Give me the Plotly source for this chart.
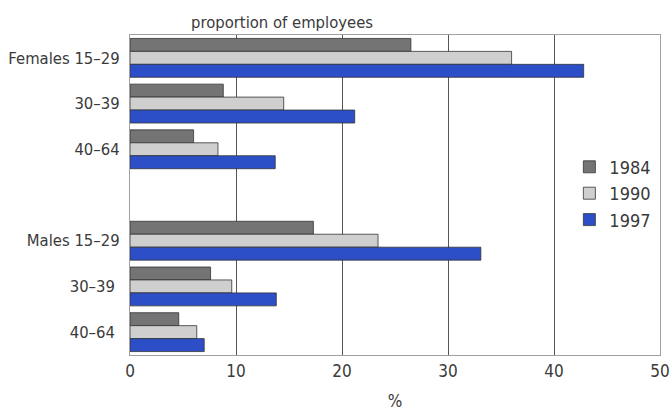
import plotly.graph_objects as go

categories = ["Females 15–29", "30–39", "40–64", " ", "Males 15–29", "30–39 ", "40–64 "]
years = ["1984", "1990", "1997"]
v1984 = [26.5, 8.8, 6.0, None, 17.3, 7.6, 4.6]
v1990 = [36.0, 14.5, 8.3, None, 23.4, 9.6, 6.3]
v1997 = [42.8, 21.2, 13.7, None, 33.1, 13.8, 7.0]
x_ticks = [0, 10, 20, 30, 40, 50]

colors = ["#747474", "#cfcfcf", "#2c4fc8"]
FONT = "DejaVu Sans Condensed, Liberation Sans Narrow, Roboto, Arial, sans-serif"
TXT = "#3a3a3a"

fig = go.Figure()
for name, vals, c in zip(years, [v1984, v1990, v1997], colors):
    fig.add_trace(go.Bar(
        y=categories, x=vals, name=name, orientation="h",
        marker=dict(color=c, line=dict(color="#333333", width=0.8)),
    ))

fig.update_layout(
    width=672, height=411,
    margin=dict(l=130, r=12, t=35, b=56),
    paper_bgcolor="white", plot_bgcolor="white",
    barmode="group", bargap=0.15, bargroupgap=0,
    font=dict(family=FONT, color=TXT, size=17),
    legend=dict(x=0.829, y=0.645, xanchor="left", yanchor="top",
                traceorder="normal", font=dict(size=18, color=TXT),
                bgcolor="rgba(0,0,0,0)", itemwidth=30, tracegroupgap=0),
    annotations=[dict(text="proportion of employees", xref="paper", yref="paper",
                      x=(282 - 130) / 530, y=1.0, xanchor="center", yanchor="bottom",
                      yshift=1, showarrow=False, font=dict(size=16.5, color=TXT))],
)
fig.update_xaxes(range=[0, 50], tickvals=x_ticks, ticks="", showgrid=True,
                 gridcolor="#555555", gridwidth=1, zeroline=False,
                 showline=True, linecolor="#a0a0a0", mirror=True, linewidth=1.2,
                 tickfont=dict(size=17, color=TXT), automargin=False,
                 title=dict(text="%", font=dict(size=17, color=TXT), standoff=16))
fig.update_yaxes(autorange="reversed", categoryorder="array", categoryarray=categories,
                 showgrid=False, ticks="", showline=True, linecolor="#a0a0a0",
                 mirror=True, linewidth=1.2, tickfont=dict(size=16.5, color=TXT),
                 ticklabelstandoff=6, automargin=False)

fig.write_html("out.html", config={"displayModeBar": False},
               post_script="document.body.style.margin='0';document.body.style.overflow='hidden';")
